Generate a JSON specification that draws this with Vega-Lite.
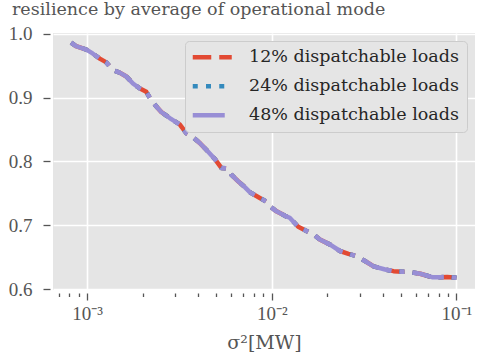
{
  "$schema": "https://vega.github.io/schema/vega-lite/v6.json",
  "width": 422,
  "height": 257,
  "autosize": {"type": "none"},
  "padding": {"left": 53, "top": 33, "right": 2, "bottom": 67},
  "background": "white",
  "config": {
    "view": {"fill": "#E5E5E5", "stroke": null},
    "font": "Liberation Serif",
    "legend": {
      "title": null,
      "orient": "top-right",
      "offset": 8,
      "padding": 7.5,
      "fillColor": "#E5E5E5",
      "strokeColor": "#CCCCCC",
      "cornerRadius": 4,
      "symbolType": "M-3.9,0H3.9",
      "symbolSize": 100,
      "symbolOffset": 11,
      "symbolStrokeWidth": 4.5,
      "labelFont": "DejaVu Serif",
      "labelFontSize": 17.5,
      "labelColor": "#262626",
      "labelOffset": 28,
      "labelLimit": 0,
      "rowPadding": 10
    }
  },
  "title": {
    "text": "resilience by average of operational mode",
    "anchor": "start",
    "frame": "group",
    "dx": -41,
    "dy": 12,
    "offset": 4,
    "baseline": "alphabetic",
    "fontSize": 17.5,
    "fontWeight": "normal",
    "color": "#555555",
    "font": "DejaVu Serif"
  },
  "data": {
    "values": [
      {"s": "12% dispatchable loads", "x": 0.000818, "y": 0.986},
      {"s": "12% dispatchable loads", "x": 0.00087, "y": 0.9805},
      {"s": "12% dispatchable loads", "x": 0.00099, "y": 0.975},
      {"s": "12% dispatchable loads", "x": 0.00107, "y": 0.969},
      {"s": "12% dispatchable loads", "x": 0.00117, "y": 0.961},
      {"s": "12% dispatchable loads", "x": 0.00127, "y": 0.955},
      {"s": "12% dispatchable loads", "x": 0.00138, "y": 0.943},
      {"s": "12% dispatchable loads", "x": 0.0015, "y": 0.939},
      {"s": "12% dispatchable loads", "x": 0.00163, "y": 0.933},
      {"s": "12% dispatchable loads", "x": 0.00177, "y": 0.922},
      {"s": "12% dispatchable loads", "x": 0.00192, "y": 0.9145},
      {"s": "12% dispatchable loads", "x": 0.00209, "y": 0.909},
      {"s": "12% dispatchable loads", "x": 0.00222, "y": 0.896},
      {"s": "12% dispatchable loads", "x": 0.00237, "y": 0.886},
      {"s": "12% dispatchable loads", "x": 0.00252, "y": 0.8775},
      {"s": "12% dispatchable loads", "x": 0.0028, "y": 0.868},
      {"s": "12% dispatchable loads", "x": 0.00317, "y": 0.858},
      {"s": "12% dispatchable loads", "x": 0.00345, "y": 0.844},
      {"s": "12% dispatchable loads", "x": 0.00374, "y": 0.838},
      {"s": "12% dispatchable loads", "x": 0.00407, "y": 0.829},
      {"s": "12% dispatchable loads", "x": 0.00443, "y": 0.818},
      {"s": "12% dispatchable loads", "x": 0.00491, "y": 0.804},
      {"s": "12% dispatchable loads", "x": 0.00533, "y": 0.79},
      {"s": "12% dispatchable loads", "x": 0.00579, "y": 0.789},
      {"s": "12% dispatchable loads", "x": 0.00605, "y": 0.779},
      {"s": "12% dispatchable loads", "x": 0.00658, "y": 0.769},
      {"s": "12% dispatchable loads", "x": 0.00714, "y": 0.76},
      {"s": "12% dispatchable loads", "x": 0.0076, "y": 0.752},
      {"s": "12% dispatchable loads", "x": 0.00861, "y": 0.743},
      {"s": "12% dispatchable loads", "x": 0.00938, "y": 0.737},
      {"s": "12% dispatchable loads", "x": 0.00977, "y": 0.73},
      {"s": "12% dispatchable loads", "x": 0.0106, "y": 0.722},
      {"s": "12% dispatchable loads", "x": 0.0118, "y": 0.715},
      {"s": "12% dispatchable loads", "x": 0.0125, "y": 0.712},
      {"s": "12% dispatchable loads", "x": 0.0139, "y": 0.698},
      {"s": "12% dispatchable loads", "x": 0.0155, "y": 0.691},
      {"s": "12% dispatchable loads", "x": 0.0168, "y": 0.686},
      {"s": "12% dispatchable loads", "x": 0.0182, "y": 0.678},
      {"s": "12% dispatchable loads", "x": 0.0207, "y": 0.67},
      {"s": "12% dispatchable loads", "x": 0.0234, "y": 0.66},
      {"s": "12% dispatchable loads", "x": 0.026, "y": 0.6555},
      {"s": "12% dispatchable loads", "x": 0.0288, "y": 0.652},
      {"s": "12% dispatchable loads", "x": 0.0321, "y": 0.644},
      {"s": "12% dispatchable loads", "x": 0.0356, "y": 0.636},
      {"s": "12% dispatchable loads", "x": 0.0411, "y": 0.631},
      {"s": "12% dispatchable loads", "x": 0.0456, "y": 0.6285},
      {"s": "12% dispatchable loads", "x": 0.0507, "y": 0.6275},
      {"s": "12% dispatchable loads", "x": 0.055, "y": 0.6275},
      {"s": "12% dispatchable loads", "x": 0.0637, "y": 0.6244},
      {"s": "12% dispatchable loads", "x": 0.0738, "y": 0.619},
      {"s": "12% dispatchable loads", "x": 0.0818, "y": 0.619},
      {"s": "12% dispatchable loads", "x": 0.0889, "y": 0.6195},
      {"s": "12% dispatchable loads", "x": 0.1, "y": 0.618},

      {"s": "24% dispatchable loads", "x": 0.000818, "y": 0.986},
      {"s": "24% dispatchable loads", "x": 0.00087, "y": 0.9805},
      {"s": "24% dispatchable loads", "x": 0.00099, "y": 0.975},
      {"s": "24% dispatchable loads", "x": 0.00107, "y": 0.969},
      {"s": "24% dispatchable loads", "x": 0.00117, "y": 0.961},
      {"s": "24% dispatchable loads", "x": 0.00127, "y": 0.955},
      {"s": "24% dispatchable loads", "x": 0.00138, "y": 0.943},
      {"s": "24% dispatchable loads", "x": 0.0015, "y": 0.939},
      {"s": "24% dispatchable loads", "x": 0.00163, "y": 0.933},
      {"s": "24% dispatchable loads", "x": 0.00177, "y": 0.922},
      {"s": "24% dispatchable loads", "x": 0.00192, "y": 0.9145},
      {"s": "24% dispatchable loads", "x": 0.00209, "y": 0.909},
      {"s": "24% dispatchable loads", "x": 0.00222, "y": 0.896},
      {"s": "24% dispatchable loads", "x": 0.00237, "y": 0.886},
      {"s": "24% dispatchable loads", "x": 0.00252, "y": 0.8775},
      {"s": "24% dispatchable loads", "x": 0.0028, "y": 0.868},
      {"s": "24% dispatchable loads", "x": 0.00317, "y": 0.858},
      {"s": "24% dispatchable loads", "x": 0.00345, "y": 0.844},
      {"s": "24% dispatchable loads", "x": 0.00374, "y": 0.838},
      {"s": "24% dispatchable loads", "x": 0.00407, "y": 0.829},
      {"s": "24% dispatchable loads", "x": 0.00443, "y": 0.818},
      {"s": "24% dispatchable loads", "x": 0.00491, "y": 0.804},
      {"s": "24% dispatchable loads", "x": 0.00533, "y": 0.79},
      {"s": "24% dispatchable loads", "x": 0.00579, "y": 0.789},
      {"s": "24% dispatchable loads", "x": 0.00605, "y": 0.779},
      {"s": "24% dispatchable loads", "x": 0.00658, "y": 0.769},
      {"s": "24% dispatchable loads", "x": 0.00714, "y": 0.76},
      {"s": "24% dispatchable loads", "x": 0.0076, "y": 0.752},
      {"s": "24% dispatchable loads", "x": 0.00861, "y": 0.743},
      {"s": "24% dispatchable loads", "x": 0.00938, "y": 0.737},
      {"s": "24% dispatchable loads", "x": 0.00977, "y": 0.73},
      {"s": "24% dispatchable loads", "x": 0.0106, "y": 0.722},
      {"s": "24% dispatchable loads", "x": 0.0118, "y": 0.715},
      {"s": "24% dispatchable loads", "x": 0.0125, "y": 0.712},
      {"s": "24% dispatchable loads", "x": 0.0139, "y": 0.698},
      {"s": "24% dispatchable loads", "x": 0.0155, "y": 0.691},
      {"s": "24% dispatchable loads", "x": 0.0168, "y": 0.686},
      {"s": "24% dispatchable loads", "x": 0.0182, "y": 0.678},
      {"s": "24% dispatchable loads", "x": 0.0207, "y": 0.67},
      {"s": "24% dispatchable loads", "x": 0.0234, "y": 0.66},
      {"s": "24% dispatchable loads", "x": 0.026, "y": 0.6555},
      {"s": "24% dispatchable loads", "x": 0.0288, "y": 0.652},
      {"s": "24% dispatchable loads", "x": 0.0321, "y": 0.644},
      {"s": "24% dispatchable loads", "x": 0.0356, "y": 0.636},
      {"s": "24% dispatchable loads", "x": 0.0411, "y": 0.631},
      {"s": "24% dispatchable loads", "x": 0.0456, "y": 0.6285},
      {"s": "24% dispatchable loads", "x": 0.0507, "y": 0.6275},
      {"s": "24% dispatchable loads", "x": 0.055, "y": 0.6275},
      {"s": "24% dispatchable loads", "x": 0.0637, "y": 0.6244},
      {"s": "24% dispatchable loads", "x": 0.0738, "y": 0.619},
      {"s": "24% dispatchable loads", "x": 0.0818, "y": 0.619},
      {"s": "24% dispatchable loads", "x": 0.0889, "y": 0.6195},
      {"s": "24% dispatchable loads", "x": 0.1, "y": 0.618},

      {"s": "48% dispatchable loads", "x": 0.000818, "y": 0.986},
      {"s": "48% dispatchable loads", "x": 0.00087, "y": 0.9805},
      {"s": "48% dispatchable loads", "x": 0.00099, "y": 0.975},
      {"s": "48% dispatchable loads", "x": 0.00107, "y": 0.969},
      {"s": "48% dispatchable loads", "x": 0.00117, "y": 0.961},
      {"s": "48% dispatchable loads", "x": 0.00127, "y": 0.955},
      {"s": "48% dispatchable loads", "x": 0.00138, "y": 0.943},
      {"s": "48% dispatchable loads", "x": 0.0015, "y": 0.939},
      {"s": "48% dispatchable loads", "x": 0.00163, "y": 0.933},
      {"s": "48% dispatchable loads", "x": 0.00177, "y": 0.922},
      {"s": "48% dispatchable loads", "x": 0.00192, "y": 0.9145},
      {"s": "48% dispatchable loads", "x": 0.00209, "y": 0.909},
      {"s": "48% dispatchable loads", "x": 0.00222, "y": 0.896},
      {"s": "48% dispatchable loads", "x": 0.00237, "y": 0.886},
      {"s": "48% dispatchable loads", "x": 0.00252, "y": 0.8775},
      {"s": "48% dispatchable loads", "x": 0.0028, "y": 0.868},
      {"s": "48% dispatchable loads", "x": 0.00317, "y": 0.858},
      {"s": "48% dispatchable loads", "x": 0.00345, "y": 0.844},
      {"s": "48% dispatchable loads", "x": 0.00374, "y": 0.838},
      {"s": "48% dispatchable loads", "x": 0.00407, "y": 0.829},
      {"s": "48% dispatchable loads", "x": 0.00443, "y": 0.818},
      {"s": "48% dispatchable loads", "x": 0.00491, "y": 0.804},
      {"s": "48% dispatchable loads", "x": 0.00533, "y": 0.79},
      {"s": "48% dispatchable loads", "x": 0.00579, "y": 0.789},
      {"s": "48% dispatchable loads", "x": 0.00605, "y": 0.779},
      {"s": "48% dispatchable loads", "x": 0.00658, "y": 0.769},
      {"s": "48% dispatchable loads", "x": 0.00714, "y": 0.76},
      {"s": "48% dispatchable loads", "x": 0.0076, "y": 0.752},
      {"s": "48% dispatchable loads", "x": 0.00861, "y": 0.743},
      {"s": "48% dispatchable loads", "x": 0.00938, "y": 0.737},
      {"s": "48% dispatchable loads", "x": 0.00977, "y": 0.73},
      {"s": "48% dispatchable loads", "x": 0.0106, "y": 0.722},
      {"s": "48% dispatchable loads", "x": 0.0118, "y": 0.715},
      {"s": "48% dispatchable loads", "x": 0.0125, "y": 0.712},
      {"s": "48% dispatchable loads", "x": 0.0139, "y": 0.698},
      {"s": "48% dispatchable loads", "x": 0.0155, "y": 0.691},
      {"s": "48% dispatchable loads", "x": 0.0168, "y": 0.686},
      {"s": "48% dispatchable loads", "x": 0.0182, "y": 0.678},
      {"s": "48% dispatchable loads", "x": 0.0207, "y": 0.67},
      {"s": "48% dispatchable loads", "x": 0.0234, "y": 0.66},
      {"s": "48% dispatchable loads", "x": 0.026, "y": 0.6555},
      {"s": "48% dispatchable loads", "x": 0.0288, "y": 0.652},
      {"s": "48% dispatchable loads", "x": 0.0321, "y": 0.644},
      {"s": "48% dispatchable loads", "x": 0.0356, "y": 0.636},
      {"s": "48% dispatchable loads", "x": 0.0411, "y": 0.631},
      {"s": "48% dispatchable loads", "x": 0.0456, "y": 0.6285},
      {"s": "48% dispatchable loads", "x": 0.0507, "y": 0.6275},
      {"s": "48% dispatchable loads", "x": 0.055, "y": 0.6275},
      {"s": "48% dispatchable loads", "x": 0.0637, "y": 0.6244},
      {"s": "48% dispatchable loads", "x": 0.0738, "y": 0.619},
      {"s": "48% dispatchable loads", "x": 0.0818, "y": 0.619},
      {"s": "48% dispatchable loads", "x": 0.0889, "y": 0.6195},
      {"s": "48% dispatchable loads", "x": 0.1, "y": 0.618}
    ]
  },
  "mark": {"type": "line", "strokeWidth": 4.5, "strokeCap": "butt", "strokeJoin": "round"},
  "encoding": {
    "x": {
      "field": "x",
      "type": "quantitative",
      "scale": {"type": "log", "domain": [0.000653, 0.126], "nice": false, "zero": false},
      "axis": {
        "title": "σ²[MW]",
        "titleFont": "DejaVu Serif",
        "titleFontSize": 19,
        "titleFontWeight": "normal",
        "titleColor": "#555555",
        "titlePadding": 10,
        "values": [0.0007, 0.0008, 0.0009, 0.001, 0.002, 0.003, 0.004, 0.005, 0.006, 0.007, 0.008, 0.009, 0.01, 0.02, 0.03, 0.04, 0.05, 0.06, 0.07, 0.08, 0.09, 0.1],
        "labelExpr": "datum.value == 0.001 ? '10⁻³' : datum.value == 0.01 ? '10⁻²' : datum.value == 0.1 ? '10⁻¹' : ''",
        "labelFont": "Liberation Serif",
        "labelFontSize": 19,
        "labelColor": "#555555",
        "labelOverlap": false,
        "labelFlush": false,
        "labelPadding": 4,
        "domain": false,
        "offset": 3,
        "tickColor": "#555555",
        "tickWidth": 1.3,
        "tickSize": {"condition": {"test": "datum.value == 0.001 || datum.value == 0.01 || datum.value == 0.1", "value": 7}, "value": 3.5},
        "grid": true,
        "gridColor": "white",
        "gridWidth": 1.6,
        "gridOpacity": {"condition": {"test": "datum.value == 0.001 || datum.value == 0.01 || datum.value == 0.1", "value": 1}, "value": 0}
      }
    },
    "y": {
      "field": "y",
      "type": "quantitative",
      "scale": {"domain": [0.599, 1.001], "nice": false, "zero": false},
      "axis": {
        "title": null,
        "values": [0.6, 0.7, 0.8, 0.9, 1.0],
        "format": ".1f",
        "labelFont": "Liberation Serif",
        "labelFontSize": 19,
        "labelColor": "#555555",
        "labelPadding": 11,
        "domain": false,
        "offset": 3,
        "tickColor": "#555555",
        "tickWidth": 1.3,
        "tickSize": 7,
        "grid": true,
        "gridColor": "white",
        "gridWidth": 1.6
      }
    },
    "color": {
      "field": "s",
      "type": "nominal",
      "scale": {
        "domain": ["12% dispatchable loads", "24% dispatchable loads", "48% dispatchable loads"],
        "range": ["#E24A33", "#348ABD", "#988ED5"]
      },
      "legend": {"title": null}
    },
    "strokeDash": {
      "field": "s",
      "type": "nominal",
      "scale": {
        "domain": ["12% dispatchable loads", "24% dispatchable loads", "48% dispatchable loads"],
        "range": [[18.5, 8], [5, 8.25], [32, 8, 5, 8]]
      },
      "legend": {"title": null}
    }
  }
}
